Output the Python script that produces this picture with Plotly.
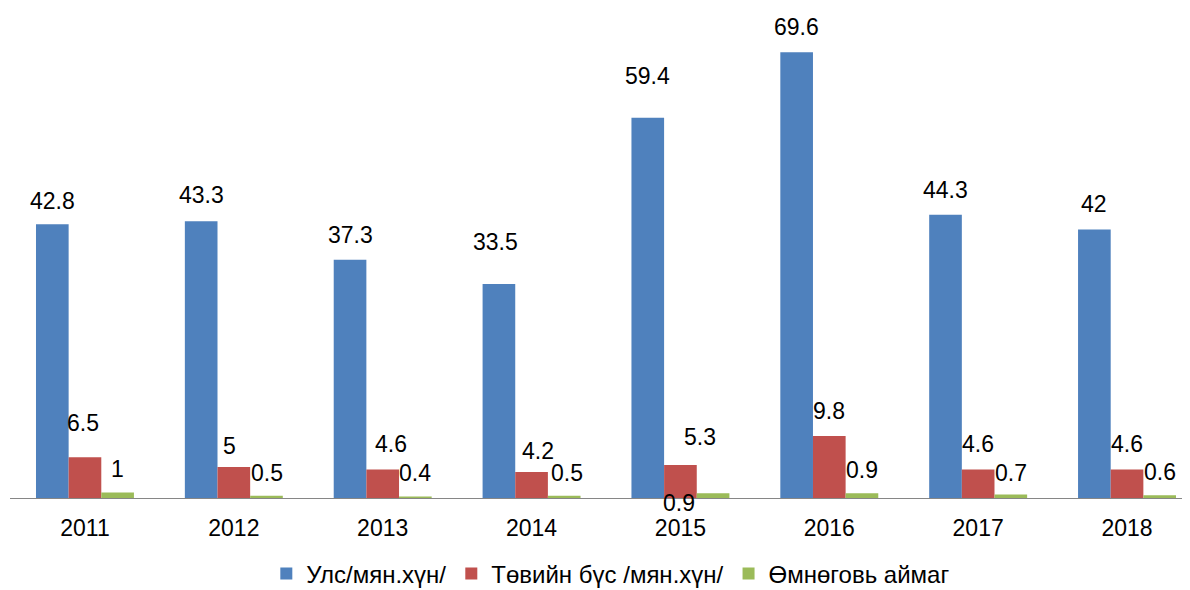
import plotly.graph_objects as go

years = ["2011", "2012", "2013", "2014", "2015", "2016", "2017", "2018"]
uls = [42.8, 43.3, 37.3, 33.5, 59.4, 69.6, 44.3, 42]
tuvyn = [6.5, 5, 4.6, 4.2, 5.3, 9.8, 4.6, 4.6]
umnugovi = [1, 0.5, 0.4, 0.5, 0.9, 0.9, 0.7, 0.6]

names = ["Улс/мян.хүн/", "Төвийн бүс /мян.хүн/", "Өмнөговь аймаг"]
colors = ["#4F81BD", "#C0504D", "#9BBB59"]
series = [uls, tuvyn, umnugovi]

# label pixel offsets (style only): (dx, dy) per point
label_dx = [
    [0, 0, 0, -3, 0, 0, 0, 0],
    [-2, -4, 8, 6, 20, 0, 0, 0],
    [0, 1, 0, 3, -34, 0, 0, 0],
]
label_dy = [
    [-23, -26, -25, -42, -42, -25, -25, -25],
    [-34, -21, -25, -21, -28, -25, -25, -25],
    [-24, -23, -23, -23, 10, -23, -22, -23],
]

FONT = "Liberation Sans, Arial, sans-serif"
FS = 23
BARGAP = 0.342
W, H = 1182, 582  # page body adds an 8px margin

fig = go.Figure()
for name, col, vals in zip(names, colors, series):
    fig.add_trace(go.Bar(x=years, y=vals, name=name, marker_color=col,
                         marker_line_width=0))

annotations = []
bar_w = (1 - BARGAP) / 3  # in category units
for si, vals in enumerate(series):
    for i, v in enumerate(vals):
        annotations.append(dict(
            x=i + (si - 1) * bar_w, y=v, xref="x", yref="y", text=str(v),
            showarrow=False,
            xshift=label_dx[si][i], yshift=-label_dy[si][i],
            xanchor="center", yanchor="middle",
            font=dict(family=FONT, size=FS, color="#000000"),
        ))

fig.update_layout(
    width=W, height=H,
    margin=dict(l=0, r=0, t=2, b=91),
    paper_bgcolor="white", plot_bgcolor="white",
    barmode="group", bargap=BARGAP, bargroupgap=0,
    font=dict(family=FONT, size=FS, color="#000000"),
    annotations=annotations,
    shapes=[dict(type="line", xref="paper", yref="y", x0=2 / W, x1=1,
                 y0=0, y1=0, line=dict(color="#868686", width=2))],
    showlegend=True,
    legend=dict(orientation="h", x=0.51, xanchor="center",
                yref="container", y=1 - 566 / H, yanchor="middle",
                font=dict(family=FONT, size=24),
                itemclick=False, traceorder="normal"),
    xaxis=dict(type="category", range=[-0.517, 7.423],
               showline=False, ticks="", showgrid=False,
               ticklabelstandoff=13, tickfont=dict(family=FONT, size=FS)),
    yaxis=dict(range=[0, 76.2], visible=False, showgrid=False,
               zeroline=False),
)

fig.write_html("out.html")
